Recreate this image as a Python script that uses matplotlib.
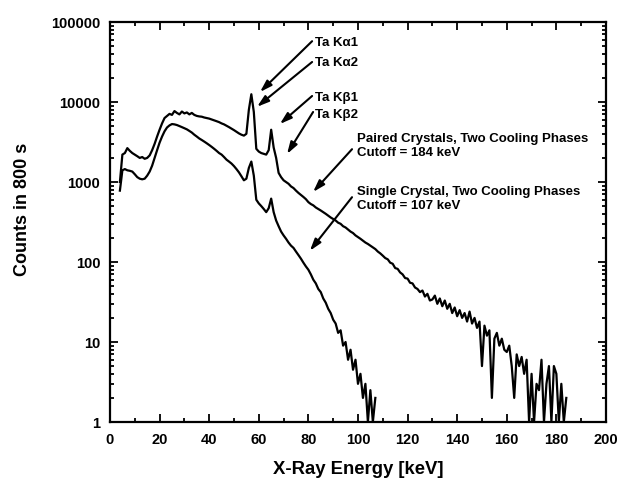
import numpy as np
import matplotlib
matplotlib.use("Agg")
import matplotlib.pyplot as plt
from matplotlib.ticker import LogLocator, MultipleLocator, NullFormatter

plt.rcParams['font.family'] = ['Liberation Sans', 'DejaVu Sans']
plt.rcParams['font.weight'] = 'bold'

# energy channels (keV)
energy_paired = np.arange(4, 185)
energy_single = np.arange(4, 108)

# paired crystals, two cooling phases (counts in 800 s)
counts_paired = [
    1000, 2200, 2300, 2650, 2450, 2300, 2200, 2100, 2000, 2050,
    1950, 2000, 2150, 2500, 3000, 3700, 4500, 5400, 6300, 6700,
    7100, 6900, 7700, 7300, 7000, 7600, 7200, 7400, 7000, 7300,
    6900, 6700, 6600, 6550, 6400, 6300, 6200, 6050, 5900, 5750,
    5600, 5400, 5250, 5050, 4850, 4650, 4450, 4250, 4050, 3900,
    3800, 4000, 8000, 12500, 7500, 2600, 2400, 2300, 2250, 2200,
    2500, 4500, 2700, 2000, 1300, 1150, 1050, 1000, 950, 880,
    840, 780, 730, 690, 650, 610, 560, 530, 510, 480,
    460, 440, 420, 400, 380, 360, 345, 330, 310, 300,
    280, 270, 255, 240, 230, 215, 205, 195, 185, 175,
    168, 160, 152, 145, 135, 128, 120, 112, 108, 98,
    95, 84, 82, 74, 70, 63, 62, 55, 54, 48,
    46, 42, 44, 37, 40, 33, 34, 38, 30, 35,
    28, 33, 26, 30, 23, 27, 21, 25, 20, 23,
    18, 24, 17, 20, 15, 18, 5, 16, 12, 14,
    2, 11, 13, 9, 11, 8, 7.5, 9, 5, 2,
    7, 5, 6.5, 4, 6, 1, 4, 1, 3, 2.5,
    6, 1, 3, 5, 1, 5, 4, 1, 3, 1,
    2,
]

# single crystal, two cooling phases
counts_single = [
    780, 1400, 1450, 1400, 1380, 1350, 1250, 1150, 1100, 1080,
    1100, 1200, 1350, 1600, 2000, 2500, 3100, 3700, 4300, 4800,
    5100, 5300, 5250, 5150, 5000, 4850, 4700, 4550, 4350, 4150,
    3900, 3700, 3500, 3350, 3200, 3050, 2900, 2750, 2600, 2450,
    2300, 2200, 2050, 1900, 1800, 1700, 1580, 1450, 1320, 1180,
    1050, 1100, 1500, 1800, 1200, 600, 540, 500, 460, 420,
    470, 620, 420, 330, 280, 240, 215, 195, 175, 160,
    150, 135, 122, 110, 98, 88, 80, 70, 60, 54,
    46, 42, 35, 31, 26, 23, 19, 17, 13, 14,
    9, 10, 6, 8, 4.5, 6, 3, 4, 2, 3,
    1, 2.5, 1, 2,
]

# emission-line labels: text anchor, arrow start, arrow tip
line_labels = ["Ta K\u03b11", "Ta K\u03b12", "Ta K\u03b21", "Ta K\u03b22"]
line_text_pos = [(82.7, 10**4.75), (82.7, 10**4.50), (82.7, 10**4.06), (82.7, 10**3.85)]
line_arrow_start = [(81.5, 10**4.76), (81.5, 10**4.50), (81.5, 10**4.075), (81.9, 10**3.875)]
line_arrow_tips = [(60.5, 10**4.125), (59.3, 10**3.94), (68.5, 10**3.725), (71.4, 10**3.35)]

curve_labels = ["Paired Crystals, Two Cooling Phases\nCutoff = 184 keV",
                "Single Crystal, Two Cooling Phases\nCutoff = 107 keV"]
curve_text_pos = [(99.6, 10**3.4625), (99.6, 10**2.80)]
curve_arrow_start = [(97.6, 10**3.41), (97.6, 10**2.81)]
curve_arrow_tips = [(81.9, 10**2.875), (80.6, 10**2.14)]

fig = plt.figure(figsize=(6.21, 4.81), dpi=100)
ax = fig.add_axes([0.1771, 0.1206, 0.7987, 0.8316])

ax.plot(energy_paired, counts_paired, color='black', lw=1.6)
ax.plot(energy_single, counts_single, color='black', lw=1.6)

ax.set_yscale('log')
ax.set_xlim(0, 200)
ax.set_ylim(1, 100000)
ax.xaxis.set_major_locator(MultipleLocator(20))
ax.xaxis.set_minor_locator(MultipleLocator(10))
ax.yaxis.set_minor_locator(LogLocator(base=10, subs=np.arange(2, 10), numticks=20))
ax.yaxis.set_minor_formatter(NullFormatter())
ax.set_yticks([1, 10, 100, 1000, 10000, 100000])
ax.set_yticklabels(['1', '10', '100', '1000', '10000', '100000'])

ax.tick_params(which='both', direction='in', top=True, right=True, width=1.3,
               labelsize=10.5)
ax.tick_params(which='major', length=6)
ax.tick_params(which='minor', length=3)
ax.tick_params(axis='x', which='major', pad=7)
ax.tick_params(axis='y', which='major', pad=7)
for sp in ax.spines.values():
    sp.set_linewidth(1.6)

ax.set_xlabel('X-Ray Energy [keV]', fontsize=13.3, fontweight='bold', labelpad=10)
ax.set_ylabel('Counts in 800 s', fontsize=13, fontweight='bold')
ax.yaxis.set_label_coords(-0.16, 0.533)

arrow_style = dict(arrowstyle='-|>,head_length=0.7,head_width=0.22', color='black',
                   lw=1.5, mutation_scale=10, shrinkA=0, shrinkB=0)
for lab, pos, start, tip in zip(line_labels, line_text_pos, line_arrow_start, line_arrow_tips):
    ax.annotate('', xy=tip, xytext=start, arrowprops=arrow_style)
    ax.text(pos[0], pos[1], lab, fontsize=9.5, fontweight='bold', ha='left', va='center')

for lab, pos, start, tip in zip(curve_labels, curve_text_pos, curve_arrow_start, curve_arrow_tips):
    ax.annotate('', xy=tip, xytext=start, arrowprops=arrow_style)
    ax.text(pos[0], pos[1], lab, fontsize=9.5, fontweight='bold', ha='left', va='center',
            linespacing=1.25)

fig.savefig('out.png', dpi=100)
